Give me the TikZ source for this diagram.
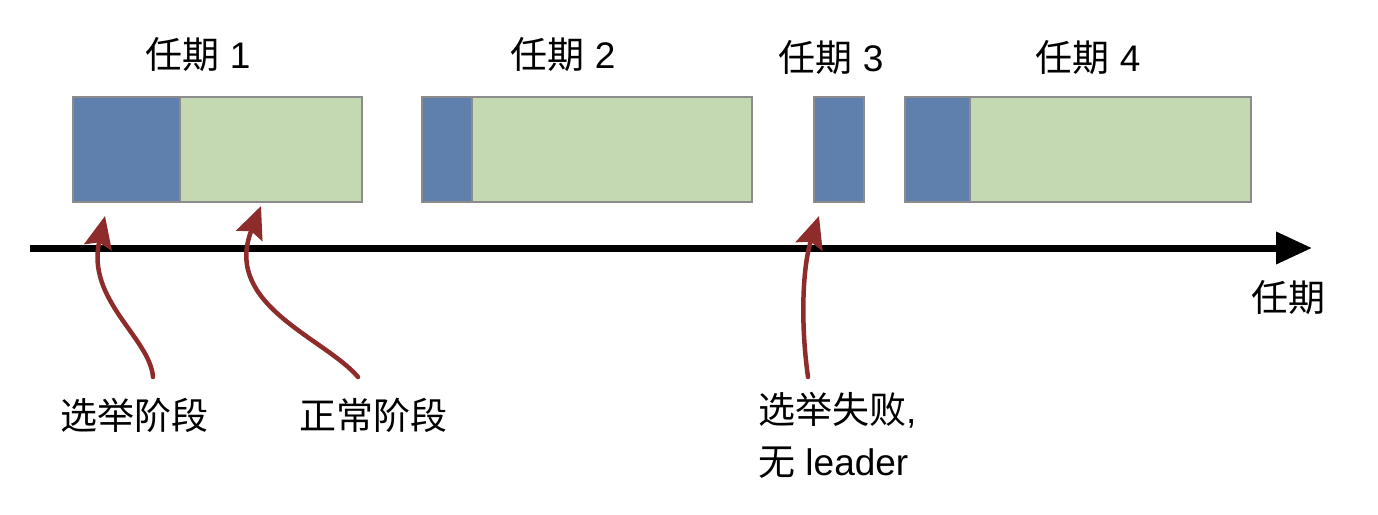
\documentclass[tikz,border=0pt]{standalone}
\usepackage{fontspec}
\setmainfont{Liberation Sans}
\newfontfamily\cjk{Noto Sans CJK SC}
\usetikzlibrary{arrows.meta}
\definecolor{elect}{HTML}{5F80AC}
\definecolor{normal}{HTML}{C4D9B2}
\definecolor{edge}{HTML}{8C8C8C}
\definecolor{pointer}{HTML}{8E2B2B}
\tikzset{
  seg/.style={draw=edge, line width=2pt, inner sep=0pt, minimum height=105pt},
  electseg/.style={seg, fill=elect},
  normalseg/.style={seg, fill=normal},
  lbl/.style={font=\fontsize{37pt}{52pt}\selectfont, inner sep=0pt},
  axisline/.style={line width=7pt, -{Triangle[length=36pt,width=31pt]}},
  callout/.style={pointer, line width=4.5pt, line cap=round, -{Stealth[length=32pt,width=28pt,inset=5pt]}}
}
\begin{document}
\begin{tikzpicture}[x=1pt,y=-1pt]
\path[use as bounding box] (0,0) rectangle (1378,514);
% term 1
\node[electseg, minimum width=107pt] (e1) at (126.5,149.5) {};
\node[normalseg, minimum width=182pt] (n1) at (271,149.5) {};
% term 2
\node[electseg, minimum width=50pt] (e2) at (447,149.5) {};
\node[normalseg, minimum width=280pt] (n2) at (612,149.5) {};
% term 3
\node[electseg, minimum width=50pt] (e3) at (839,149.5) {};
% term 4
\node[electseg, minimum width=65pt] (e4) at (937.5,149.5) {};
\node[normalseg, minimum width=281pt] (n4) at (1110.5,149.5) {};
% titles
\node[lbl] (t1) at (198,55) {{\cjk 任期} 1};
\node[lbl] (t2) at (563,55) {{\cjk 任期} 2};
\node[lbl] (t3) at (831,58) {{\cjk 任期} 3};
\node[lbl] (t4) at (1088,58) {{\cjk 任期} 4};
% axis
\coordinate (ax0) at (30,248);
\coordinate (ax1) at (1312,248);
\draw[axisline] (ax0) -- (ax1);
\node[lbl] (axl) at (1288,298) {\cjk 任期};
% labels
\node[lbl] (l1) at (134,415) {\cjk 选举阶段};
\node[lbl] (l2) at (373,415) {\cjk 正常阶段};
\node[lbl, align=left, anchor=north west] (l3) at (758,392) {{\cjk 选举失败},\\{\cjk 无} leader};
% callout arrows
\coordinate (s1) at (153,377);
\coordinate (p1) at (105,216);
\coordinate (s2) at (358,377);
\coordinate (p2) at (261,206);
\coordinate (s3) at (808,377);
\coordinate (p3) at (819,216);
\draw[callout] (s1) .. controls (150,338) and (86,300) .. (p1);
\draw[callout] (s2) .. controls (325,338) and (222,305) .. (p2);
\draw[callout] (s3) .. controls (800,320) and (803,265) .. (p3);
\end{tikzpicture}
\end{document}
